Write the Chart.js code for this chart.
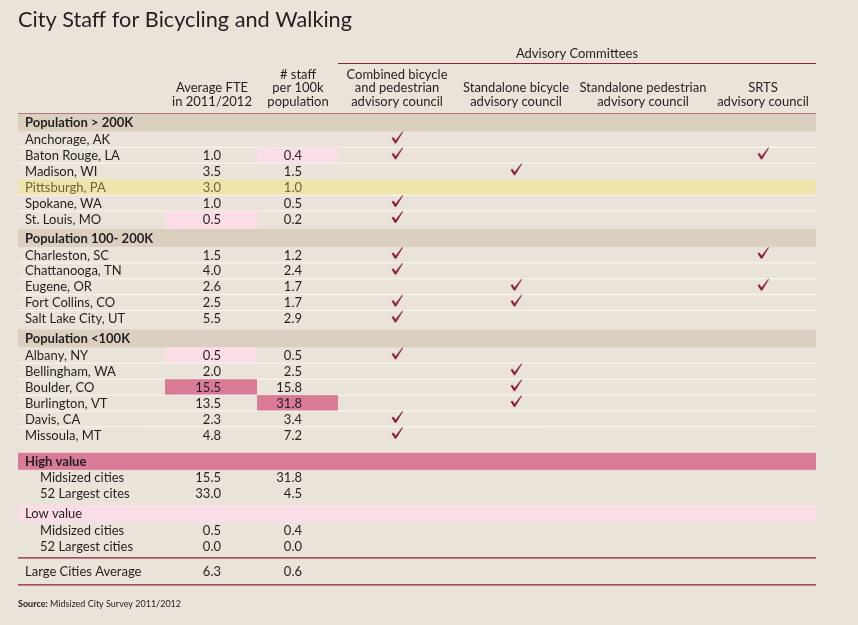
<!DOCTYPE html>
<html>
<head>
<meta charset="utf-8">
<script src="https://cdn.jsdelivr.net/npm/chart.js@4/dist/chart.umd.min.js"></script>
<style>
  html, body { margin: 0; padding: 0; background: #eae3d9; }
  #wrap { width: 858px; height: 625px; }
</style>
</head>
<body>
<div id="wrap"><canvas id="staffChart" width="858" height="625"></canvas></div>
<script>
// ---- data ----
const title = 'City Staff for Bicycling and Walking';
const groupNames = ['Population > 200K', 'Population 100- 200K', 'Population <100K'];
const cities = ['Anchorage, AK', 'Baton Rouge, LA', 'Madison, WI', 'Pittsburgh, PA', 'Spokane, WA', 'St. Louis, MO',
    'Charleston, SC', 'Chattanooga, TN', 'Eugene, OR', 'Fort Collins, CO', 'Salt Lake City, UT',
    'Albany, NY', 'Bellingham, WA', 'Boulder, CO', 'Burlington, VT', 'Davis, CA', 'Missoula, MT'];
const cityGroup = [0, 0, 0, 0, 0, 0, 1, 1, 1, 1, 1, 2, 2, 2, 2, 2, 2];
const fte = [null, 1.0, 3.5, 3.0, 1.0, 0.5, 1.5, 4.0, 2.6, 2.5, 5.5, 0.5, 2.0, 15.5, 13.5, 2.3, 4.8];
const staffPer100k = [null, 0.4, 1.5, 1.0, 0.5, 0.2, 1.2, 2.4, 1.7, 1.7, 2.9, 0.5, 2.5, 15.8, 31.8, 3.4, 7.2];
const combinedCouncil = [1, 1, 0, 0, 1, 1, 1, 1, 0, 1, 1, 1, 0, 0, 0, 1, 1];
const bikeCouncil     = [0, 0, 1, 0, 0, 0, 0, 0, 1, 1, 0, 0, 1, 1, 1, 0, 0];
const pedCouncil      = [0, 0, 0, 0, 0, 0, 0, 0, 0, 0, 0, 0, 0, 0, 0, 0, 0];
const srtsCouncil     = [0, 1, 0, 0, 0, 0, 1, 0, 1, 0, 0, 0, 0, 0, 0, 0, 0];
const featuredCity = 'Pittsburgh, PA';

const highLabels = ['Midsized cities', '52 Largest cites'];
const highFte = [15.5, 33.0];
const highStaff = [31.8, 4.5];
const lowLabels = ['Midsized cities', '52 Largest cities'];
const lowFte = [0.5, 0.0];
const lowStaff = [0.4, 0.0];
const avgLabel = 'Large Cities Average';
const avgFte = 6.3;
const avgStaff = 0.6;

const spanHeader = 'Advisory Committees';
const colHeaders = [
    ['Average FTE', 'in 2011/2012'],
    ['# staff', 'per 100k', 'population'],
    ['Combined bicycle', 'and pedestrian', 'advisory council'],
    ['Standalone bicycle', 'advisory council'],
    ['Standalone pedestrian', 'advisory council'],
    ['SRTS', 'advisory council']
];
const councils = [combinedCouncil, bikeCouncil, pedCouncil, srtsCouncil];

// ---- layout ----
const W = 858, H = 625;
const LEFT = 18, RIGHT = 816;
const colCenter = [212, 298, 397, 516, 643, 763];
const valueRight = [221, 302];
const cellSpan = [[165, 257], [257, 338]];
const FONT = 'Lato, "Open Sans", sans-serif';
const C = {
    text: '#231f20', band: '#dbcfc0', featured: '#ede5ac', featuredText: '#6e6632',
    lowPink: '#fbdde5', highPink: '#d97a97', rule: '#8c1d3d', check: '#8b1a3a', sep: '#fbf8f3'
};

// build the row list (top edge + height) walking down the table
const rows = [];
let cursor = 113.5;
function addRow(r, h) { r.top = cursor; r.h = h; cursor += h; rows.push(r); return r; }

groupNames.forEach((g, gi) => {
    addRow({ kind: 'band', label: g, bold: true }, 18);
    const idx = cities.map((c, i) => i).filter(i => cityGroup[i] === gi);
    idx.forEach((i, k) => addRow({ kind: 'city', city: i, last: k === idx.length - 1 }, 15.9));
    cursor += [2, 3, 11][gi];
});
cursor -= 1;
addRow({ kind: 'band', label: 'High value', bold: true, fill: C.highPink }, 17);
highLabels.forEach((l, i) => addRow({ kind: 'sum', label: l, vals: [highFte[i], highStaff[i]] }, 16));
cursor += 3;
addRow({ kind: 'band', label: 'Low value', fill: C.lowPink }, 18);
lowLabels.forEach((l, i) => addRow({ kind: 'sum', label: l, vals: [lowFte[i], lowStaff[i]] }, 16));
cursor += 3;
const ruleAvgTop = cursor;
addRow({ kind: 'avg', label: avgLabel, vals: [avgFte, avgStaff] }, 27);
const ruleAvgBottom = cursor;

const cityRow = {};
rows.forEach(r => { if (r.kind === 'city') cityRow[r.city] = r; });

// checkmark points: x = council column, y = city row
const checkPoints = [];
councils.forEach((arr, ci) => {
    arr.forEach((v, i) => {
        if (v) checkPoints.push({ x: colCenter[ci + 2], y: cityRow[i].top + cityRow[i].h / 2 - 2 });
    });
});

// checkmark glyph used as the point style
const checkImg = document.createElement('canvas');
checkImg.width = 14; checkImg.height = 14;
(function () {
    const g = checkImg.getContext('2d');
    g.fillStyle = C.check;
    g.beginPath();
    g.moveTo(1.5, 7.5);
    g.lineTo(3.5, 6.8);
    g.lineTo(5.6, 9.8);
    g.lineTo(12.3, 1.2);
    g.lineTo(13, 1.8);
    g.lineTo(6.2, 12.8);
    g.lineTo(4.8, 12.8);
    g.closePath();
    g.fill();
})();

const fmt = v => (v === null || v === undefined) ? '' : v.toFixed(1);

const tablePlugin = {
    id: 'tableDraw',
    beforeDatasetsDraw(chart) {
        const ctx = chart.ctx;
        const xs = chart.scales.x, ys = chart.scales.y;
        const px = v => xs.getPixelForValue(v);
        const py = v => ys.getPixelForValue(v);
        const rect = (x0, x1, y0, y1, col) => {
            ctx.fillStyle = col;
            ctx.fillRect(px(x0), py(y0), px(x1) - px(x0), py(y1) - py(y0));
        };
        const hline = (x0, x1, y, col, w) => {
            ctx.strokeStyle = col; ctx.lineWidth = w;
            ctx.beginPath(); ctx.moveTo(px(x0), py(y)); ctx.lineTo(px(x1), py(y)); ctx.stroke();
        };
        const text = (s, x, y, align, opts = {}) => {
            ctx.font = (opts.bold ? 'bold ' : '') + (opts.size || 13) + 'px ' + FONT;
            ctx.fillStyle = opts.color || C.text;
            ctx.textAlign = align;
            ctx.textBaseline = opts.baseline || 'middle';
            ctx.fillText(s, px(x), py(y));
        };
        ctx.save();

        // title
        text(title, LEFT, 27, 'left', { size: 21.7, baseline: 'alphabetic' });

        // headers
        text(spanHeader, (338 + RIGHT) / 2, 54, 'center');
        hline(338, RIGHT, 63.5, C.rule, 1);
        colHeaders.forEach((lines, ci) => {
            lines.forEach((s, li) => {
                const y = 101.5 - (lines.length - 1 - li) * 13.5;
                text(s, colCenter[ci], y, 'center');
            });
        });
        hline(LEFT, RIGHT, 113.5, C.rule, 1.2);

        const lowFteV = lowFte[0], lowStaffV = lowStaff[0];
        const highFteV = highFte[0], highStaffV = highStaff[0];

        rows.forEach(r => {
            const mid = r.top + r.h / 2 + 0.5;
            if (r.kind === 'band') {
                rect(LEFT, RIGHT, r.top, r.top + r.h, r.fill || C.band);
                text(r.label, 25, mid, 'left', { bold: r.bold });
            } else if (r.kind === 'city') {
                const i = r.city;
                const featured = cities[i] === featuredCity;
                if (featured) rect(LEFT, RIGHT, r.top, r.top + r.h, C.featured);
                // highlight min / max cells
                [[fte[i], lowFteV, highFteV], [staffPer100k[i], lowStaffV, highStaffV]].forEach(([v, lo, hi], c) => {
                    if (v === null) return;
                    let col = null;
                    if (v === hi) col = C.highPink; else if (v === lo) col = C.lowPink;
                    if (col) rect(cellSpan[c][0], cellSpan[c][1], r.top, r.top + r.h + (r.last ? 2 : 0), col);
                });
                if (!r.last) hline(LEFT, RIGHT, r.top + r.h, C.sep, 1);
                const color = featured ? C.featuredText : C.text;
                text(cities[i], 25, mid, 'left', { color });
                text(fmt(fte[i]), valueRight[0], mid, 'right', { color });
                text(fmt(staffPer100k[i]), valueRight[1], mid, 'right', { color });
            } else {
                const indent = r.kind === 'sum' ? 40 : 25;
                text(r.label, indent, mid, 'left');
                text(fmt(r.vals[0]), valueRight[0], mid, 'right');
                text(fmt(r.vals[1]), valueRight[1], mid, 'right');
            }
        });

        hline(LEFT, RIGHT, ruleAvgTop, C.rule, 1.2);
        hline(LEFT, RIGHT, ruleAvgBottom, C.rule, 1.2);

        // source note
        ctx.font = 'bold 9px ' + FONT;
        ctx.fillStyle = C.text;
        ctx.textAlign = 'left';
        ctx.textBaseline = 'middle';
        const lead = 'Source:';
        ctx.fillText(lead, px(LEFT), py(604));
        const lw = ctx.measureText(lead).width;
        ctx.font = '9px ' + FONT;
        ctx.fillText(' Midsized City Survey 2011/2012', px(LEFT) + lw, py(604));

        ctx.restore();
    }
};

new Chart(document.getElementById('staffChart').getContext('2d'), {
    type: 'scatter',
    data: {
        datasets: [{
            label: 'Advisory council',
            data: checkPoints,
            pointStyle: checkImg,
            pointRadius: 7,
            pointHoverRadius: 7
        }]
    },
    options: {
        responsive: false,
        maintainAspectRatio: false,
        animation: false,
        layout: { padding: 0, autoPadding: false },
        events: [],
        plugins: {
            legend: { display: false },
            tooltip: { enabled: false }
        },
        scales: {
            x: { type: 'linear', min: 0, max: W, display: false },
            y: { type: 'linear', min: 0, max: H, reverse: true, display: false }
        }
    },
    plugins: [tablePlugin]
});
</script>
</body>
</html>
